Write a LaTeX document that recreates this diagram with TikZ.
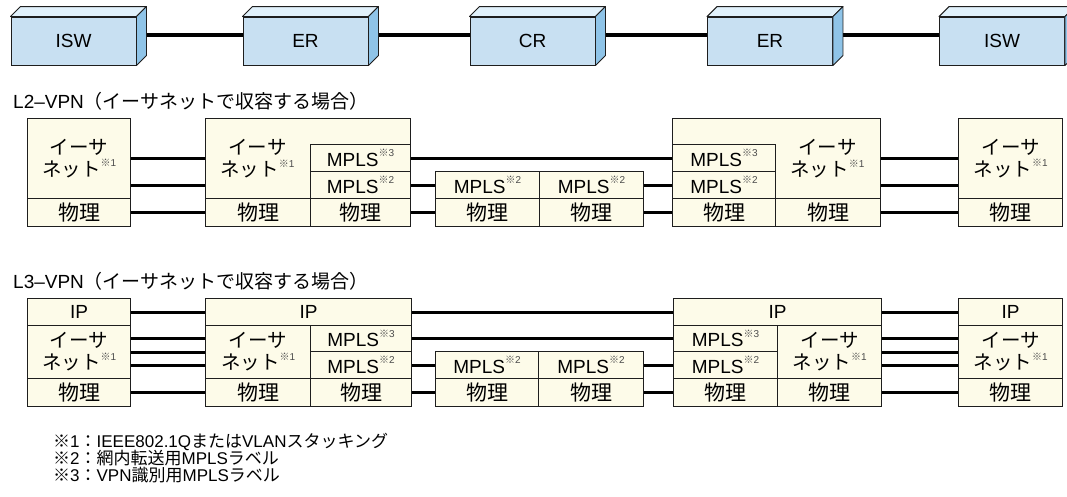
\documentclass[tikz,border=0pt]{standalone}
\usepackage{fontspec}
\setmainfont{Liberation Sans}
\newfontfamily\jp{Noto Sans CJK JP}
\usetikzlibrary{calc}

\definecolor{boxfront}{RGB}{200,224,242}
\definecolor{boxtop}{RGB}{225,241,251}
\definecolor{boxside}{RGB}{143,196,232}
\definecolor{layerfill}{RGB}{253,251,233}
\definecolor{edge}{RGB}{30,30,30}

% footnote mark placed as a small superscript
\newcommand\mk[1]{\raisebox{0.5em}{\fontsize{10}{10}\selectfont\color{black!70}{\jp ※}#1}}
% one protocol-stack cell, top-left corner at (x,y), size w x h
\newcommand\cellat[6]{\node[cell, minimum width=#4pt, minimum height=#5pt] (#1) at (#2,#3) {#6};}
% ether cell text on two lines
\newcommand\ethtext{{\jp\fontsize{19.5}{22}\selectfont イーサ}\\{\jp\fontsize{19.5}{22}\selectfont ネット}\mk1}
\newcommand\phy{{\jp\fontsize{21}{21}\selectfont 物理}}
% top and side faces of a router block
\newcommand\boxfaces[1]{%
  \filldraw[face, fill=boxtop] (#1.north west) -- ($(#1.north west)+(10,-10)$) -- ($(#1.north east)+(10,-10)$) -- (#1.north east) -- cycle;
  \filldraw[face, fill=boxside] (#1.north east) -- ($(#1.north east)+(10,-10)$) -- ($(#1.south east)+(10,-10)$) -- (#1.south east) -- cycle;}

\tikzset{
  router/.style={draw=edge, line width=0.9pt, fill=boxfront, minimum width=125pt,
    minimum height=48pt, inner sep=0pt, font=\fontsize{19}{19}\selectfont},
  face/.style={draw=edge, line width=0.9pt, line join=round},
  trunk/.style={line width=4.5pt},
  cell/.style={draw=edge, line width=1.1pt, fill=layerfill, inner sep=0pt,
    anchor=north west, align=center, font=\fontsize{19}{22}\selectfont},
  celltext/.style={inner sep=0pt, align=center, font=\fontsize{19}{22}\selectfont},
  link/.style={line width=3pt},
  title/.style={anchor=west, inner sep=0pt, font=\fontsize{19}{19}\selectfont},
  note/.style={anchor=west, inner sep=0pt, font=\fontsize{17}{17}\selectfont},
}

\begin{document}
\begin{tikzpicture}[x=1pt, y=-1pt]
\useasboundingbox (0,0) rectangle (1067,496);

% ---------- network path ----------
\node[router] (isw1) at (73.5,41) {ISW};
\node[router] (er1)  at (305.5,41) {ER};
\node[router] (cr)   at (532.5,41) {CR};
\node[router] (er2)  at (770,41) {ER};
\node[router] (isw2) at (1002,41) {ISW};
\draw[trunk] ($(isw1.east)+(10,-6)$) -- ($(er1.west)+(0,-6)$);
\draw[trunk] ($(er1.east)+(10,-6)$) -- ($(cr.west)+(0,-6)$);
\draw[trunk] ($(cr.east)+(10,-6)$) -- ($(er2.west)+(0,-6)$);
\draw[trunk] ($(er2.east)+(10,-6)$) -- ($(isw2.west)+(0,-6)$);
\foreach \r in {isw1,er1,cr,er2,isw2} {\boxfaces{\r}}

% ---------- L2-VPN ----------
\node[title] (t2) at (13,101) {L2–VPN{\jp （イーサネットで収容する場合）}};

\cellat{a2eth}{27}{118}{103}{80}{\ethtext}
\cellat{a2phy}{27}{198}{103}{28}{\phy}

\node[cell, minimum width=205pt, minimum height=108pt] (b2frame) at (205,118) {};
\node[celltext] (b2eth) at (257.5,159) {\ethtext};
\cellat{b2m3}{310}{144}{100}{27}{MPLS\mk3}
\cellat{b2m2}{310}{171}{100}{27}{MPLS\mk2}
\cellat{b2phyL}{205}{198}{105}{28}{\phy}
\cellat{b2phyR}{310}{198}{100}{28}{\phy}

\cellat{c2m2L}{435}{171}{104}{27}{MPLS\mk2}
\cellat{c2m2R}{539}{171}{104}{27}{MPLS\mk2}
\cellat{c2phyL}{435}{198}{104}{28}{\phy}
\cellat{c2phyR}{539}{198}{104}{28}{\phy}

\node[cell, minimum width=208pt, minimum height=108pt] (d2frame) at (672,118) {};
\node[celltext] (d2eth) at (827.5,159) {\ethtext};
\cellat{d2m3}{672}{144}{103}{27}{MPLS\mk3}
\cellat{d2m2}{672}{171}{103}{27}{MPLS\mk2}
\cellat{d2phyL}{672}{198}{103}{28}{\phy}
\cellat{d2phyR}{775}{198}{105}{28}{\phy}

\cellat{e2eth}{958}{118}{104}{80}{\ethtext}
\cellat{e2phy}{958}{198}{104}{28}{\phy}

\draw[link] (a2eth.east |- b2m3.center) -- (b2frame.west |- b2m3.center);
\draw[link] (a2eth.east |- b2m2.center) -- (b2frame.west |- b2m2.center);
\draw[link] (a2phy.east) -- (b2phyL.west);
\draw[link] (b2m3.east) -- (d2m3.west);
\draw[link] (b2m2.east) -- (c2m2L.west);
\draw[link] (c2m2R.east) -- (d2m2.west);
\draw[link] (b2phyR.east) -- (c2phyL.west);
\draw[link] (c2phyR.east) -- (d2phyL.west);
\draw[link] (d2frame.east |- d2m3.center) -- (e2eth.west |- d2m3.center);
\draw[link] (d2frame.east |- d2m2.center) -- (e2eth.west |- d2m2.center);
\draw[link] (d2phyR.east) -- (e2phy.west);

% ---------- L3-VPN ----------
\node[title] (t3) at (13,281) {L3–VPN{\jp （イーサネットで収容する場合）}};

\cellat{a3ip}{27}{298}{103}{27}{IP}
\cellat{a3eth}{27}{325}{103}{53}{\ethtext}
\cellat{a3phy}{27}{378}{103}{28}{\phy}

\cellat{b3ip}{205}{298}{206}{27}{IP}
\cellat{b3eth}{205}{325}{105}{53}{\ethtext}
\cellat{b3m3}{310}{325}{101}{26}{MPLS\mk3}
\cellat{b3m2}{310}{351}{101}{27}{MPLS\mk2}
\cellat{b3phyL}{205}{378}{105}{28}{\phy}
\cellat{b3phyR}{310}{378}{101}{28}{\phy}

\cellat{c3m2L}{435}{351}{103}{27}{MPLS\mk2}
\cellat{c3m2R}{538}{351}{105}{27}{MPLS\mk2}
\cellat{c3phyL}{435}{378}{103}{28}{\phy}
\cellat{c3phyR}{538}{378}{105}{28}{\phy}

\cellat{d3ip}{673}{298}{208}{27}{IP}
\cellat{d3m3}{673}{325}{104}{26}{MPLS\mk3}
\cellat{d3m2}{673}{351}{104}{27}{MPLS\mk2}
\cellat{d3eth}{777}{325}{104}{53}{\ethtext}
\cellat{d3phyL}{673}{378}{104}{28}{\phy}
\cellat{d3phyR}{777}{378}{104}{28}{\phy}

\cellat{e3ip}{958}{298}{104}{27}{IP}
\cellat{e3eth}{958}{325}{104}{53}{\ethtext}
\cellat{e3phy}{958}{378}{104}{28}{\phy}

\draw[link] (a3ip.east) -- (b3ip.west);
\draw[link] (a3eth.east |- b3m3.center) -- (b3eth.west |- b3m3.center);
\draw[link] (a3eth.east |- b3m3.south) -- (b3eth.west |- b3m3.south);
\draw[link] (a3eth.east |- b3m2.center) -- (b3eth.west |- b3m2.center);
\draw[link] (a3phy.east) -- (b3phyL.west);
\draw[link] (b3ip.east) -- (d3ip.west);
\draw[link] (b3m3.east) -- (d3m3.west);
\draw[link] (b3m2.east) -- (c3m2L.west);
\draw[link] (c3m2R.east) -- (d3m2.west);
\draw[link] (b3phyR.east) -- (c3phyL.west);
\draw[link] (c3phyR.east) -- (d3phyL.west);
\draw[link] (d3ip.east) -- (e3ip.west);
\draw[link] (d3eth.east |- d3m3.center) -- (e3eth.west |- d3m3.center);
\draw[link] (d3eth.east |- d3m3.south) -- (e3eth.west |- d3m3.south);
\draw[link] (d3eth.east |- d3m2.center) -- (e3eth.west |- d3m2.center);
\draw[link] (d3phyR.east) -- (e3phy.west);

% ---------- notes ----------
\node[note] (n1) at (53,442) {{\jp ※}1{\jp ：}IEEE802.1Q{\jp または}VLAN{\jp スタッキング}};
\node[note] (n2) at (53,458) {{\jp ※}2{\jp ：網内転送用}MPLS{\jp ラベル}};
\node[note] (n3) at (53,475) {{\jp ※}3{\jp ：}VPN{\jp 識別用}MPLS{\jp ラベル}};
\end{tikzpicture}
\end{document}
